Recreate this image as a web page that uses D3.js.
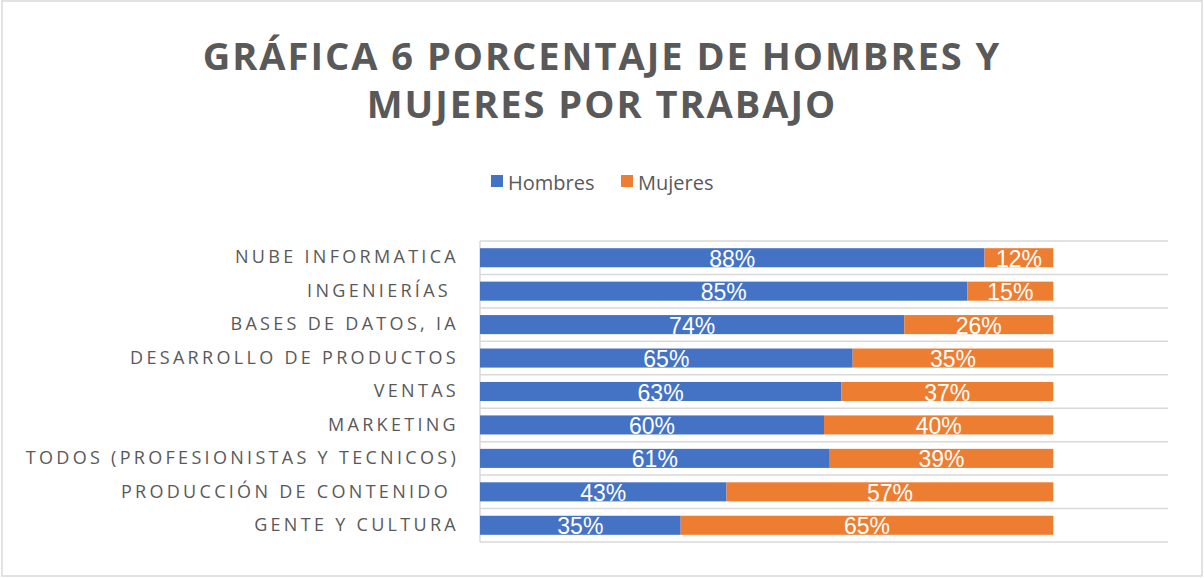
<!DOCTYPE html>
<html>
<head>
<meta charset="utf-8">
<script src="https://cdn.jsdelivr.net/npm/d3@7"></script>
<style>
  body { margin: 0; background: #fff; }
  #container { width: 1204px; height: 578px; }
</style>
</head>
<body>
<div id="container"></div>
<script>
// Datos de la gráfica
const categories = [
  "NUBE INFORMATICA",
  "INGENIERÍAS ",
  "BASES DE DATOS, IA",
  "DESARROLLO DE PRODUCTOS",
  "VENTAS",
  "MARKETING",
  "TODOS (PROFESIONISTAS Y TECNICOS)",
  "PRODUCCIÓN DE CONTENIDO ",
  "GENTE Y CULTURA"
];
const hombres = [88, 85, 74, 65, 63, 60, 61, 43, 35];
const mujeres = [12, 15, 26, 35, 37, 40, 39, 57, 65];
const seriesNames = ["Hombres", "Mujeres"];
const colors = ["#4472c4", "#ed7d31"];
const titleLines = ["GRÁFICA 6 PORCENTAJE DE HOMBRES Y", "MUJERES POR TRABAJO"];

const W = 1204, H = 578;
const margin = { top: 241, right: 36, bottom: 36, left: 480 };
const width = W - margin.left - margin.right;
const height = H - margin.top - margin.bottom;

const svg = d3.select("#container")
  .append("svg")
  .attr("width", W)
  .attr("height", H);

// Borde del gráfico
svg.append("rect")
  .attr("x", 2).attr("y", 1)
  .attr("width", W - 4).attr("height", H - 3)
  .attr("fill", "#fff")
  .attr("stroke", "#d9d9d9")
  .attr("stroke-width", 1.5);

// Título
svg.append("g").selectAll("text")
  .data(titleLines)
  .enter()
  .append("text")
  .attr("x", W / 2)
  .attr("y", (d, i) => 70 + i * 48)
  .attr("text-anchor", "middle")
  .style("font-family", "'Open Sans', sans-serif")
  .style("font-weight", "bold")
  .style("font-size", "38px")
  .style("letter-spacing", "2px")
  .style("fill", "#595959")
  .text(d => d);

// Leyenda
const legend = svg.append("g").attr("transform", "translate(491,175)");
const legendItems = legend.selectAll("g")
  .data(seriesNames)
  .enter()
  .append("g")
  .attr("transform", (d, i) => `translate(${i * 130},0)`);

legendItems.append("rect")
  .attr("width", 12).attr("height", 12)
  .style("fill", (d, i) => colors[i]);

legendItems.append("text")
  .attr("x", 17).attr("y", 15)
  .style("font-family", "'Open Sans', sans-serif")
  .style("font-size", "20px")
  .style("fill", "#595959")
  .text(d => d);

// Escalas
const g = svg.append("g").attr("transform", `translate(${margin.left},${margin.top})`);

const x = d3.scaleLinear().domain([0, 120]).range([0, width]);
const y = d3.scaleBand().domain(categories).range([0, height]).paddingInner(0.43).paddingOuter(0.215);

// Líneas de cuadrícula entre categorías
const bounds = d3.range(categories.length + 1).map(i => i * height / categories.length);
g.selectAll(".grid")
  .data(bounds)
  .enter()
  .append("line")
  .attr("x1", 0).attr("x2", width)
  .attr("y1", d => d).attr("y2", d => d)
  .attr("stroke", "#d9d9d9")
  .attr("stroke-width", 1.5);

g.append("line")
  .attr("x1", 0).attr("x2", 0)
  .attr("y1", 0).attr("y2", height)
  .attr("stroke", "#d9d9d9")
  .attr("stroke-width", 1.5);

// Eje de categorías
const yAxis = g.append("g").call(d3.axisLeft(y).tickSize(0).tickPadding(21));
yAxis.select(".domain").remove();
yAxis.selectAll("text")
  .style("font-family", "'Open Sans', sans-serif")
  .style("font-size", "18px")
  .style("letter-spacing", "3.3px")
  .style("white-space", "pre")
  .style("fill", "#595959");

// Barras apiladas
const stackData = categories.map((c, i) => ({ cat: c, Hombres: hombres[i], Mujeres: mujeres[i] }));
const stacked = d3.stack().keys(seriesNames)(stackData);

const layers = g.selectAll(".layer")
  .data(stacked)
  .enter()
  .append("g")
  .attr("class", "layer")
  .style("fill", (d, i) => colors[i]);

layers.selectAll("rect")
  .data(d => d)
  .enter()
  .append("rect")
  .attr("x", d => x(d[0]))
  .attr("y", d => y(d.data.cat))
  .attr("width", d => x(d[1]) - x(d[0]))
  .attr("height", y.bandwidth());

// Etiquetas de datos
layers.selectAll("text")
  .data(d => d.map(v => ({ v, key: d.key })))
  .enter()
  .append("text")
  .attr("x", d => (x(d.v[0]) + x(d.v[1])) / 2)
  .attr("y", d => y(d.v.data.cat) + y.bandwidth() / 2 + 9)
  .attr("text-anchor", "middle")
  .style("font-family", "'Liberation Sans', Arial, sans-serif")
  .style("font-size", "23px")
  .style("fill", "#fff")
  .text(d => d.v.data[d.key] + "%");
</script>
</body>
</html>
